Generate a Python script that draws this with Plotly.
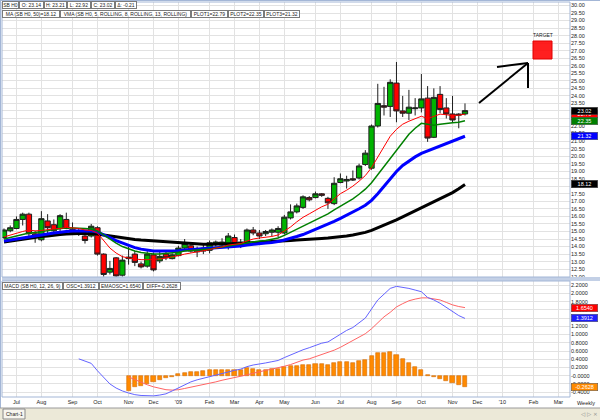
import plotly.graph_objects as go

# ---------------- data ----------------
dates = ["2008-06-20","2008-06-27","2008-07-04","2008-07-11","2008-07-18","2008-07-25","2008-08-01","2008-08-08","2008-08-15","2008-08-22",
         "2008-08-29","2008-09-05","2008-09-12","2008-09-19","2008-09-26","2008-10-03","2008-10-10","2008-10-17","2008-10-24","2008-10-31",
         "2008-11-07","2008-11-14","2008-11-21","2008-11-28","2008-12-05","2008-12-12","2008-12-19","2008-12-26","2009-01-02","2009-01-09",
         "2009-01-16","2009-01-23","2009-01-30","2009-02-06","2009-02-13","2009-02-20","2009-02-27","2009-03-06","2009-03-13","2009-03-20",
         "2009-03-27","2009-04-03","2009-04-10","2009-04-17","2009-04-24","2009-05-01","2009-05-08","2009-05-15","2009-05-22","2009-05-29",
         "2009-06-05","2009-06-12","2009-06-19","2009-06-26","2009-07-03","2009-07-10","2009-07-17","2009-07-24","2009-07-31","2009-08-07",
         "2009-08-14","2009-08-21","2009-08-28","2009-09-04","2009-09-11","2009-09-18","2009-09-25","2009-10-02","2009-10-09","2009-10-16",
         "2009-10-23","2009-10-30","2009-11-06","2009-11-13","2009-11-20"]

opens = [14.6, 15.05, 15.2, 15.8, 16.15, 14.85, 14.45, 15.7, 15.45, 15.2,
         15.8, 15.15, 15.0, 14.7, 14.7, 15.25, 13.5, 12.3, 13.25, 12.1,
         13.2, 13.5, 12.85, 12.7, 13.45, 13.05, 13.5, 13.2, 13.4, 13.9,
         14.05, 13.65, 13.7, 13.75, 14.15, 14.1, 14.0, 14.6, 14.3, 14.25,
         15.1, 14.9, 14.85, 14.95, 14.95, 14.9, 15.9, 16.3, 16.6, 17.25,
         17.25, 17.5, 17.2, 16.85, 18.25, 18.35, 18.5, 18.55, 19.45, 19.2,
         22.0, 23.35, 23.3, 24.85, 23.0, 22.85, 23.15, 23.2, 23.85, 21.25,
         24.1, 23.2, 22.8, 22.72, 22.8]
highs = [15.2, 15.4, 16.0, 16.25, 16.25, 15.05, 16.35, 16.15, 15.8, 16.15,
         16.25, 15.6, 15.2, 14.9, 15.5, 15.35, 13.55, 13.05, 13.3, 13.4,
         14.0, 13.7, 13.0, 13.7, 13.6, 13.7, 13.7, 13.55, 14.05, 14.5,
         14.2, 14.0, 14.2, 14.4, 14.4, 14.55, 14.9, 14.8, 14.5, 15.2,
         15.3, 15.1, 15.1, 15.2, 15.35, 16.1, 16.8, 16.85, 17.4, 17.35,
         17.65, 17.55, 17.3, 18.6, 18.85, 18.7, 19.05, 19.5, 20.4, 22.1,
         24.8, 24.6, 25.1, 26.25, 24.0, 24.4, 23.85, 25.45, 24.65, 24.5,
         24.65, 23.85, 24.0, 22.85, 23.5]
lows = [14.5, 14.95, 15.15, 15.4, 14.7, 14.25, 14.35, 14.85, 14.85, 14.9,
        15.15, 14.85, 14.7, 14.2, 14.6, 13.4, 12.0, 12.15, 11.95, 12.0,
        12.8, 12.7, 12.55, 12.6, 12.35, 12.9, 13.1, 13.15, 13.35, 13.8,
        13.6, 13.3, 13.5, 13.55, 14.0, 13.9, 13.8, 14.0, 13.9, 14.1,
        14.75, 14.5, 14.7, 14.7, 14.6, 14.8, 15.8, 16.2, 16.5, 17.0,
        17.2, 17.3, 16.5, 16.75, 18.2, 17.85, 18.35, 18.45, 19.35, 19.1,
        21.9, 22.7, 22.6, 22.25, 22.6, 22.4, 22.7, 22.9, 20.95, 21.2,
        22.85, 22.5, 22.25, 21.85, 22.7]
closes = [15.1, 15.25, 15.8, 16.15, 14.85, 14.7, 15.85, 15.25, 15.05, 16.05,
          15.2, 14.9, 14.95, 14.4, 15.35, 13.5, 12.15, 12.55, 12.05, 13.1,
          13.3, 12.95, 12.65, 13.5, 12.45, 13.35, 13.25, 13.45, 13.9, 14.2,
          13.7, 13.85, 13.9, 14.25, 14.3, 14.3, 14.7, 14.2, 14.15, 15.1,
          14.9, 14.7, 15.0, 15.1, 15.2, 15.95, 16.3, 16.7, 17.3, 17.1,
          17.5, 17.4, 16.9, 18.2, 18.5, 18.45, 18.42, 19.35, 20.2, 22.0,
          23.5, 23.25, 24.9, 23.0, 22.85, 23.25, 23.2, 23.8, 21.2, 23.9,
          23.1, 22.8, 22.4, 22.78, 23.02]

ma50 = [14.30, 14.37, 14.40, 14.47, 14.54, 14.60, 14.67, 14.70, 14.77, 14.80,
        14.84, 14.87, 14.87, 14.87, 14.87, 14.84, 14.77, 14.70, 14.64, 14.57,
        14.50, 14.47, 14.43, 14.40, 14.37, 14.33, 14.30, 14.27, 14.23, 14.20,
        14.17, 14.17, 14.16, 14.16, 14.16, 14.17, 14.17, 14.20, 14.20, 14.23,
        14.24, 14.27, 14.30, 14.33, 14.37, 14.38, 14.40, 14.43, 14.47, 14.50,
        14.51, 14.54, 14.57, 14.60, 14.64, 14.70, 14.77, 14.84, 14.94, 15.07,
        15.24, 15.40, 15.57, 15.77, 15.97, 16.17, 16.37, 16.57, 16.77, 16.97,
        17.17, 17.38, 17.58, 17.84, 18.12]
plot1 = [14.64, 14.77, 14.87, 15.00, 15.10, 15.04, 15.07, 15.14, 15.17, 15.20,
         15.27, 15.24, 15.20, 15.10, 15.07, 14.90, 14.37, 13.90, 13.57, 13.33,
         13.24, 13.17, 13.13, 13.13, 13.13, 13.17, 13.24, 13.30, 13.40, 13.50,
         13.57, 13.63, 13.70, 13.80, 13.90, 13.97, 14.10, 14.17, 14.20, 14.37,
         14.50, 14.57, 14.60, 14.67, 14.77, 15.04, 15.30, 15.64, 15.94, 16.17,
         16.41, 16.64, 16.81, 17.17, 17.51, 17.74, 18.01, 18.34, 18.71, 19.24,
         19.91, 20.58, 21.32, 21.78, 22.12, 22.32, 22.49, 22.65, 22.49, 22.62,
         22.79, 22.75, 22.69, 22.72, 22.79]
plot2 = [14.50, 14.60, 14.70, 14.80, 14.90, 14.94, 15.00, 15.07, 15.10, 15.17,
         15.24, 15.24, 15.24, 15.20, 15.17, 15.04, 14.77, 14.47, 14.23, 14.00,
         13.83, 13.70, 13.60, 13.53, 13.50, 13.50, 13.53, 13.57, 13.63, 13.70,
         13.73, 13.77, 13.80, 13.83, 13.90, 13.97, 14.03, 14.10, 14.17, 14.23,
         14.30, 14.37, 14.40, 14.47, 14.57, 14.74, 14.94, 15.17, 15.37, 15.57,
         15.77, 15.97, 16.17, 16.44, 16.67, 16.91, 17.17, 17.47, 17.81, 18.24,
         18.78, 19.31, 19.85, 20.45, 20.98, 21.45, 21.85, 22.18, 22.12, 22.05,
         22.12, 22.18, 22.22, 22.25, 22.35]
plot3 = [14.37, 14.44, 14.50, 14.60, 14.67, 14.74, 14.77, 14.84, 14.90, 14.97,
         15.00, 15.04, 15.04, 15.04, 15.04, 14.97, 14.80, 14.60, 14.40, 14.23,
         14.07, 13.93, 13.83, 13.77, 13.71, 13.70, 13.70, 13.71, 13.73, 13.77,
         13.80, 13.83, 13.83, 13.87, 13.90, 13.93, 13.97, 14.00, 14.03, 14.10,
         14.13, 14.17, 14.23, 14.27, 14.33, 14.44, 14.54, 14.67, 14.80, 14.97,
         15.14, 15.30, 15.47, 15.67, 15.87, 16.07, 16.27, 16.51, 16.74, 17.07,
         17.51, 18.01, 18.51, 18.98, 19.38, 19.68, 19.95, 20.18, 20.35, 20.51,
         20.68, 20.85, 20.98, 21.15, 21.32]

macd_osc = [None]*12 + [0.41, 0.36, 0.30, 0.12, -0.05, -0.20, -0.30, -0.37,
            -0.42, -0.46, -0.48, -0.49, -0.49, -0.47, -0.44, -0.37, -0.30, -0.22,
            -0.15, -0.10, -0.06, -0.02, 0.01, 0.05, 0.09, 0.13, 0.16, 0.22,
            0.26, 0.28, 0.31, 0.34, 0.37, 0.44, 0.51, 0.58, 0.63, 0.68,
            0.74, 0.79, 0.82, 0.92, 1.02, 1.10, 1.17, 1.28, 1.40, 1.62,
            1.84, 1.98, 2.12, 2.17, 2.15, 2.12, 2.08, 2.04, 1.90, 1.84,
            1.76, 1.66, 1.55, 1.46, 1.3912]
macd_ema = [None]*20 + [-0.03, -0.10, -0.17, -0.22, -0.27, -0.31, -0.34, -0.35, -0.34, -0.31,
            -0.28, -0.25, -0.22, -0.19, -0.15, -0.11, -0.08, -0.05, -0.02, 0.02,
            0.06, 0.10, 0.13, 0.16, 0.19, 0.23, 0.27, 0.33, 0.38, 0.41,
            0.46, 0.51, 0.56, 0.62, 0.69, 0.77, 0.85, 0.93, 1.02, 1.14,
            1.29, 1.43, 1.54, 1.67, 1.75, 1.82, 1.86, 1.89, 1.89, 1.87,
            1.84, 1.78, 1.72, 1.68, 1.654]
macd_diff = [None]*20 + [-0.38, -0.28, -0.24, -0.20, -0.15, -0.10, -0.06, -0.02, 0.03, 0.07,
             0.09, 0.10, 0.12, 0.14, 0.13, 0.14, 0.15, 0.145, 0.14, 0.18,
             0.16, 0.15, 0.15, 0.16, 0.16, 0.20, 0.23, 0.23, 0.25, 0.27,
             0.28, 0.28, 0.26, 0.30, 0.33, 0.33, 0.32, 0.35, 0.38, 0.48,
             0.55, 0.55, 0.58, 0.50, 0.40, 0.30, 0.22, 0.15, 0.02, -0.03,
             -0.08, -0.12, -0.17, -0.22, -0.2628]

month_ticks = ["2008-07-04","2008-08-01","2008-09-05","2008-10-03","2008-11-07","2008-12-05","2009-01-02",
               "2009-02-06","2009-03-06","2009-04-03","2009-05-01","2009-06-05","2009-07-03","2009-08-07",
               "2009-09-04","2009-10-02","2009-11-06","2009-12-04","2010-01-01","2010-02-05","2010-03-05"]
month_labels = ["Jul","Aug","Sep","Oct","Nov","Dec","'09","Feb","Mar","Apr","May","Jun","Jul","Aug",
                "Sep","Oct","Nov","Dec","'10","Feb","Mar"]
macd_ticks = [-0.4, -0.2, 0.0, 0.2, 0.4, 0.6, 0.8, 1.0, 1.2, 1.4, 1.6, 1.8, 2.0, 2.2]
macd_tick_labels = ["-0.4000","-0.2000","-0.0000","0.2000","0.4000","0.6000","0.8000","1.0000",
                    "1.2000","1.4000","1.6000","1.8000","2.0000","2.2000"]

header1 = ["SB H0", "O: 23.14", "H: 23.21", "L: 22.92", "C: 23.02", "Δ: -0.21"]
header2 = ["MA (SB H0, 50)=18.12", "VMA (SB H0, 5, ROLLING, 8, ROLLING, 13, ROLLING)",
           "PLOT1=22.79", "PLOT2=22.35", "PLOT3=21.32"]
header3 = ["MACD (SB H0, 12, 26, 9)", "OSC=1.3912", "EMAOSC=1.6540", "DIFF=-0.2628"]

# ---------------- figure ----------------
W, H = 600, 420
def px(x): return x / W
def py(y): return 1 - y / H

FONT = "Liberation Sans, Arial, sans-serif"
GRID = "#e2e2e2"
FRAME = "#a3b6d6"
XR = ["2008-06-17 18:00", "2010-03-18"]

fig = go.Figure()
fig.add_trace(go.Candlestick(
    x=dates, open=opens, high=highs, low=lows, close=closes,
    increasing=dict(line=dict(color="#1e1e1e", width=1), fillcolor="#00b400"),
    decreasing=dict(line=dict(color="#1e1e1e", width=1), fillcolor="#ff0000"),
    whiskerwidth=0, xaxis="x", yaxis="y", hoverinfo="skip"))
for vals, color, width in [(ma50, "#000000", 3), (plot3, "#0000ff", 3),
                           (plot2, "#008000", 1.5), (plot1, "#ff0000", 1)]:
    fig.add_trace(go.Scatter(x=dates, y=vals, mode="lines",
                             line=dict(color=color, width=width), xaxis="x", yaxis="y"))

fig.add_trace(go.Bar(x=dates, y=macd_diff, width=4.6 * 86400000,
                     marker=dict(color="#ff8a00", line=dict(color="#d46a00", width=0.6)),
                     xaxis="x2", yaxis="y2"))
fig.add_trace(go.Scatter(x=dates, y=macd_ema, mode="lines", line=dict(color="#ff6464", width=1),
                         xaxis="x2", yaxis="y2"))
fig.add_trace(go.Scatter(x=dates, y=macd_osc, mode="lines", line=dict(color="#6464ff", width=1),
                         xaxis="x2", yaxis="y2"))

axis_font = dict(family=FONT, size=5.5, color="#222222")
fig.update_layout(
    width=W, height=H, margin=dict(l=0, r=0, t=0, b=0), autosize=False,
    paper_bgcolor="white", plot_bgcolor="white", showlegend=False,
    boxgap=0.15, boxgroupgap=0, bargap=0,
    font=dict(family=FONT, size=6, color="#222222"),
    xaxis=dict(domain=[px(2), px(570)], anchor="y", type="date", range=XR,
               tickvals=month_ticks, showticklabels=False, showgrid=True, gridcolor=GRID,
               zeroline=False, ticks="", rangeslider=dict(visible=False), automargin=False),
    yaxis=dict(domain=[py(277), py(2)], anchor="x", side="right", range=[11.98, 30.23],
               dtick=0.5, tick0=0, tickformat=".2f", showgrid=True, gridcolor=GRID,
               zeroline=False, ticks="", tickfont=axis_font, automargin=False),
    xaxis2=dict(domain=[px(2), px(570)], anchor="y2", type="date", range=XR, matches="x",
                tickvals=month_ticks, ticktext=month_labels, showgrid=True, gridcolor=GRID,
                zeroline=False, ticks="", tickfont=axis_font, automargin=False,
                rangeslider=dict(visible=False)),
    yaxis2=dict(domain=[py(397), py(281)], anchor="x2", side="right", range=[-0.517, 2.30],
                tickvals=macd_ticks, ticktext=macd_tick_labels, showgrid=True, gridcolor=GRID,
                zeroline=False, ticks="", tickfont=axis_font, automargin=False),
)

shapes = []
def rect(x0, y0, x1, y1, line=None, fill=None, layer="above", width=1):
    shapes.append(dict(type="rect", xref="paper", yref="paper", x0=px(x0), x1=px(x1),
                       y0=py(y1), y1=py(y0), layer=layer,
                       line=dict(color=line or "rgba(0,0,0,0)", width=width if line else 0),
                       fillcolor=fill or "rgba(0,0,0,0)"))
def seg(x0, y0, x1, y1, color="#000000", width=2):
    shapes.append(dict(type="line", xref="paper", yref="paper", x0=px(x0), x1=px(x1),
                       y0=py(y0), y1=py(y1), line=dict(color=color, width=width), layer="above"))

# pane frames and separators
rect(2, 277, 600, 281, fill="#c3d0e6", layer="above")
rect(2, 2, 570, 277, line=FRAME)
rect(2, 281, 570, 397, line=FRAME)
seg(0.5, 0, 0.5, 408, color=FRAME, width=1)
seg(0, 0.5, 600, 0.5, color=FRAME, width=1)
# bottom tab bar
rect(0, 408, 600, 420, fill="#ece9d8", layer="above")
seg(0, 408, 600, 408, color="#9a9a9a", width=1)
rect(3, 409, 25, 419, line="#8a8a8a", fill="#f7f5ee")
# target box
rect(533, 41, 552, 59, fill="rgba(255,0,0,0.88)", line="#e00000")
# arrow
seg(479, 103, 528, 63)
seg(497, 67, 528, 63)
seg(528, 63, 528, 88)
fig.update_layout(shapes=shapes)

ann = []
def box(x, y, w, text, size=5):
    ann.append(dict(xref="paper", yref="paper", x=px(x), y=py(y), xanchor="left", yanchor="middle",
                    text=text, showarrow=False, width=w, height=6, align="center",
                    bgcolor="white", bordercolor="#7a7a7a", borderwidth=1, borderpad=0,
                    font=dict(family=FONT, size=size, color="#222222")))

for (x, w), t in zip([(2, 15), (19, 23), (44, 21), (67, 22), (91, 22), (115, 20)], header1):
    box(x, 5.5, w, t)
for (x, w), t in zip([(2, 56), (60, 129), (191, 35), (228, 34), (264, 34)], header2):
    box(x, 14, w, t)
for (x, w), t in zip([(2, 59), (63, 34), (99, 42), (143, 36)], header3):
    box(x, 286, w, t)

def tag(yval, yref, text, bg):
    ann.append(dict(xref="paper", yref=yref, x=px(571), y=yval, xanchor="left", yanchor="middle",
                    text=text, showarrow=False, width=26, height=7, align="center",
                    bgcolor=bg, bordercolor="#505050", borderwidth=0.5, borderpad=0,
                    font=dict(family=FONT, size=5.5, color="white")))

tag(plot1[-1], "y", "22.79", "#ff0000")
tag(closes[-1], "y", "23.02", "#000000")
tag(plot2[-1], "y", "22.35", "#008000")
tag(plot3[-1], "y", "21.32", "#0000ff")
tag(ma50[-1], "y", "18.12", "#000000")
tag(macd_ema[-1], "y2", "1.6540", "#ff0000")
tag(macd_osc[-1], "y2", "1.3912", "#1f1fff")
tag(macd_diff[-1], "y2", "-0.2628", "#ff8a00")

ann.append(dict(xref="paper", yref="paper", x=px(542.5), y=py(35), text="TARGET", showarrow=False,
                font=dict(family=FONT, size=5, color="#222222"), xanchor="center", yanchor="middle"))
ann.append(dict(xref="paper", yref="paper", x=px(586), y=py(402.5), text="Weekly", showarrow=False,
                font=dict(family=FONT, size=5.5, color="#222222"), xanchor="center", yanchor="middle"))
ann.append(dict(xref="paper", yref="paper", x=px(14), y=py(414), text="Chart-1", showarrow=False,
                font=dict(family=FONT, size=5, color="#222222"), xanchor="center", yanchor="middle"))
ann.append(dict(xref="paper", yref="paper", x=px(589), y=py(414), text="◁ ▷ ×", showarrow=False,
                font=dict(family="DejaVu Sans, sans-serif", size=5.5, color="#8a8a8a"),
                xanchor="center", yanchor="middle"))
fig.update_layout(annotations=ann)

fig.write_html("out.html", config={"displayModeBar": False},
               post_script="document.body.style.margin='0';document.body.style.padding='0';")
